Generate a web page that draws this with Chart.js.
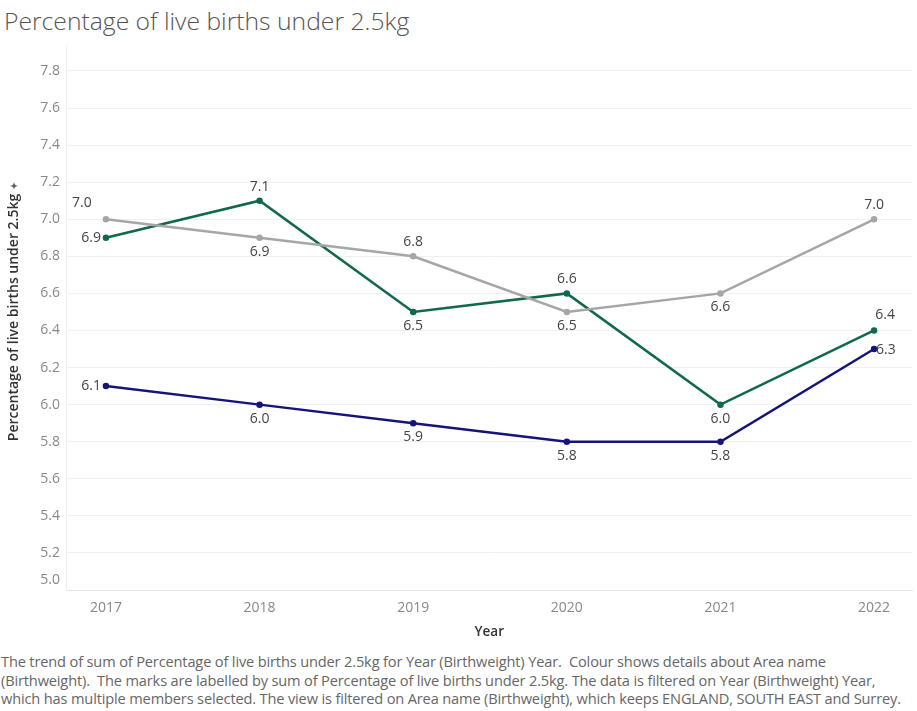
<!DOCTYPE html>
<html>
<head>
<meta charset="utf-8">
<script src="https://cdn.jsdelivr.net/npm/chart.js@4"></script>
<style>
  body { margin: 0; background: #fff; font-family: "Open Sans", "Noto Sans", sans-serif; }
  #title { position: absolute; left: 4px; top: 4px; font-size: 24.7px; font-weight: 300; color: #555; white-space: nowrap; }
  #wrap { position: absolute; left: 0; top: 0; width: 917px; height: 650px; }
  #footer { position: absolute; left: 1px; top: 652px; font-size: 14.6px; line-height: 18.5px; color: #666; width: 916px; white-space: nowrap; letter-spacing: -0.15px; }
</style>
</head>
<body>
<div id="title">Percentage of live births under 2.5kg</div>
<div id="wrap"><canvas id="lbwChart"></canvas></div>
<div id="footer">The trend of sum of Percentage of live births under 2.5kg for Year (Birthweight) Year.&nbsp; Colour shows details about Area name<br>(Birthweight).&nbsp; The marks are labelled by sum of Percentage of live births under 2.5kg. The data is filtered on Year (Birthweight) Year,<br>which has multiple members selected. The view is filtered on Area name (Birthweight), which keeps ENGLAND, SOUTH EAST and Surrey.</div>
<script>
// data
const years = [2017, 2018, 2019, 2020, 2021, 2022];
const england = [7.0, 6.9, 6.8, 6.5, 6.6, 7.0];
const southEast = [6.9, 7.1, 6.5, 6.6, 6.0, 6.4];
const surrey = [6.1, 6.0, 5.9, 5.8, 5.8, 6.3];
const yTicks = [5.0, 5.2, 5.4, 5.6, 5.8, 6.0, 6.2, 6.4, 6.6, 6.8, 7.0, 7.2, 7.4, 7.6, 7.8];

function toPoints(values) {
    return years.map((y, i) => ({ x: y, y: values[i] }));
}

// where each mark's label sits relative to its point
const labelSpots = {
    'ENGLAND': ['aboveLeft', 'below', 'above', 'below', 'below', 'above'],
    'SOUTH EAST': ['left', 'above', 'below', 'above', 'below', 'aboveRight'],
    'Surrey': ['left', 'below', 'below', 'below', 'below', 'right']
};

const markLabels = {
    id: 'markLabels',
    afterDatasetsDraw(chart) {
        const ctx = chart.ctx;
        ctx.save();
        ctx.font = '14px "Open Sans", "Noto Sans", sans-serif';
        ctx.fillStyle = '#444';
        chart.data.datasets.forEach((ds, di) => {
            const meta = chart.getDatasetMeta(di);
            const spots = labelSpots[ds.label];
            meta.data.forEach((pt, i) => {
                const txt = ds.data[i].y.toFixed(1);
                const spot = spots[i];
                let x = pt.x, y = pt.y;
                ctx.textAlign = 'center';
                ctx.textBaseline = 'middle';
                if (spot === 'above') { y -= 14; }
                else if (spot === 'below') { y += 14; }
                else if (spot === 'left') { ctx.textAlign = 'right'; x -= 5; }
                else if (spot === 'right') { ctx.textAlign = 'left'; x += 2; y += 1; }
                else if (spot === 'aboveLeft') { x -= 24; y -= 16; }
                else if (spot === 'aboveRight') { x += 11; y -= 15; }
                ctx.fillText(txt, x, y);
            });
        });
        // bottom tick label is nudged up inside the axis, as in the source
        const ys = chart.scales.y;
        ctx.fillStyle = '#888';
        ctx.textAlign = 'right';
        ctx.textBaseline = 'middle';
        ctx.fillText(yTicks[0].toFixed(1), ys.right - 6, ys.getPixelForValue(yTicks[0]) - 10);
        // small pin glyph above the rotated axis title
        ctx.fillStyle = '#666';
        ctx.font = '11px "DejaVu Sans", sans-serif';
        ctx.textAlign = 'center';
        ctx.translate(15, 186);
        ctx.rotate(-Math.PI / 2);
        ctx.fillText('\u2726', 0, 0);
        ctx.restore();
    }
};

function line(label, values, color) {
    return {
        label: label,
        data: toPoints(values),
        borderColor: color,
        backgroundColor: color,
        borderWidth: 2.5,
        pointRadius: 2,
        pointHoverRadius: 2,
        tension: 0
    };
}

document.addEventListener('DOMContentLoaded', () => {
    const ctx = document.getElementById('lbwChart').getContext('2d');
    new Chart(ctx, {
        type: 'line',
        data: {
            datasets: [
                line('ENGLAND', england, '#a6a6a6'),
                line('SOUTH EAST', southEast, '#106a49'),
                line('Surrey', surrey, '#14147a')
            ]
        },
        options: {
            responsive: true,
            maintainAspectRatio: false,
            animation: false,
            layout: { padding: { top: 45, right: 2, left: 0, bottom: 0 } },
            plugins: { legend: { display: false }, tooltip: { enabled: false } },
            scales: {
                x: {
                    type: 'linear',
                    min: 2016.74,
                    max: 2022.25,
                    afterBuildTicks: s => { s.ticks = years.map(v => ({ value: v })); },
                    afterFit: s => { s.height = 60; },
                    grid: { display: false, drawTicks: false },
                    border: { color: '#e4e4e4' },
                    ticks: {
                        padding: 10,
                        color: '#888',
                        font: { size: 14, family: '"Open Sans", "Noto Sans", sans-serif' },
                        callback: v => String(v)
                    },
                    title: {
                        display: true,
                        text: 'Year',
                        color: '#333',
                        font: { size: 13.5, weight: '600', family: '"Open Sans", "Noto Sans", sans-serif' },
                        padding: { top: 0, bottom: 10 }
                    }
                },
                y: {
                    min: 5.0,
                    max: 7.94,
                    afterBuildTicks: s => { s.ticks = yTicks.map(v => ({ value: v })); },
                    afterFit: s => { s.width = 66; },
                    grid: { color: '#f0f0f0', drawTicks: false },
                    border: { color: '#f0f0f0' },
                    ticks: {
                        padding: 6,
                        color: '#888',
                        font: { size: 14, family: '"Open Sans", "Noto Sans", sans-serif' },
                        callback: v => v === yTicks[0] ? '' : v.toFixed(1)
                    },
                    title: {
                        display: true,
                        text: 'Percentage of live births under 2.5kg',
                        color: '#333',
                        font: { size: 14, weight: '600', family: '"Open Sans", "Noto Sans", sans-serif' },
                        padding: { top: 6, bottom: 0 }
                    }
                }
            }
        },
        plugins: [markLabels]
    });
});
</script>
</body>
</html>
